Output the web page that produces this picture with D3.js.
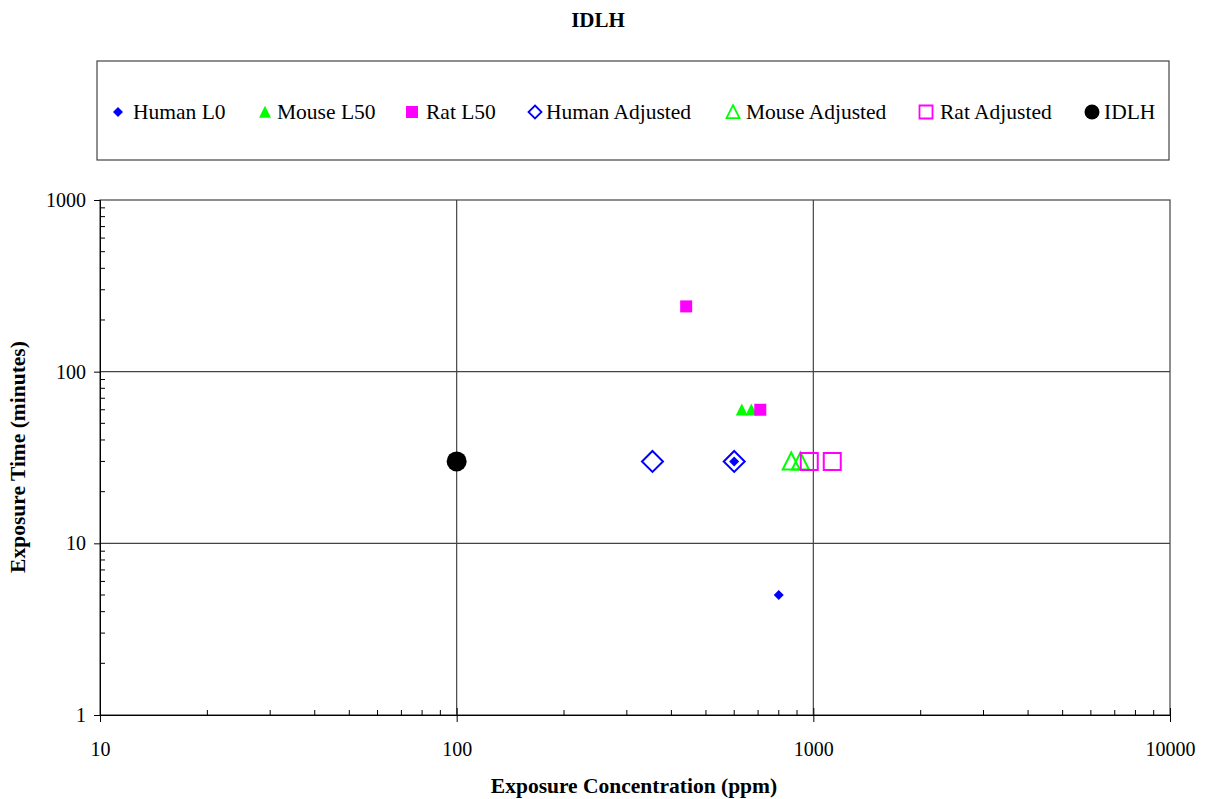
<!DOCTYPE html>
<html><head><meta charset="utf-8">
<script src="https://cdn.jsdelivr.net/npm/d3@7"></script>
<style>body{margin:0;background:#fff;} text{font-family:"Liberation Serif","Times New Roman",serif;}</style>
</head><body><svg id="c" width="1205" height="799"></svg>
<script>
const xTicks = [10, 100, 1000, 10000];
const yTicks = [1, 10, 100, 1000];
const humanL0 = [[600, 30], [800, 5]];
const mouseL50 = [[630, 60], [670, 60]];
const ratL50 = [[440, 240], [710, 60]];
const humanAdj = [[354, 30], [600, 30]];
const mouseAdj = [[867, 30], [920, 30]];
const ratAdj = [[974, 30], [1130, 30]];
const idlh = [[100, 30]];
const seriesNames = ["Human L0","Mouse L50","Rat L50","Human Adjusted","Mouse Adjusted","Rat Adjusted","IDLH"];

const svg = d3.select("#c");
const L = 100, R = 1170, T = 200, B = 715;
const x = d3.scaleLog().domain([10, 10000]).range([L, R]);
const y = d3.scaleLog().domain([1, 1000]).range([B, T]);

svg.append("text").attr("x", 598).attr("y", 27).attr("text-anchor", "middle")
  .attr("font-weight", "bold").attr("font-size", 21).text("IDLH");

// gridlines
const g = svg.append("g");
[100, 1000].forEach(v => g.append("line").attr("x1", x(v)).attr("x2", x(v)).attr("y1", T).attr("y2", B).attr("stroke", "#444").attr("stroke-width", 1.2));
[10, 100].forEach(v => g.append("line").attr("y1", y(v)).attr("y2", y(v)).attr("x1", L).attr("x2", R).attr("stroke", "#444").attr("stroke-width", 1.2));
g.append("rect").attr("x", L).attr("y", T).attr("width", R - L).attr("height", B - T).attr("fill", "none").attr("stroke", "#444").attr("stroke-width", 1.2);

// minor ticks
const minorX = [];
for (let d = 10; d < 10000; d *= 10) for (let k = 2; k <= 9; k++) minorX.push(d * k);
const minorY = [];
for (let d = 1; d < 1000; d *= 10) for (let k = 2; k <= 9; k++) minorY.push(d * k);

const xa = svg.append("g").attr("transform", `translate(0,${B})`);
xa.call(d3.axisBottom(x).tickValues(xTicks).tickFormat(d3.format("d")).tickSize(7).tickPadding(20));
xa.selectAll("text").attr("font-size", 20).attr("fill", "#000");
xa.selectAll(".tick line").attr("y1", -7).attr("stroke", "#000");
xa.select(".domain").attr("stroke", "#000");
xa.selectAll(".minor").data(minorX).enter().append("line").attr("x1", d => x(d)).attr("x2", d => x(d)).attr("y1", 0).attr("y2", -5).attr("stroke", "#000");

const ya = svg.append("g").attr("transform", `translate(${L},0)`);
ya.call(d3.axisLeft(y).tickValues(yTicks).tickFormat(d3.format("d")).tickSize(6).tickPadding(8));
ya.selectAll("text").attr("font-size", 20).attr("fill", "#000");
ya.selectAll(".tick line").attr("stroke", "#000");
ya.select(".domain").attr("stroke", "#000");
ya.selectAll(".minor").data(minorY).enter().append("line").attr("y1", d => y(d)).attr("y2", d => y(d)).attr("x1", 0).attr("x2", 5).attr("stroke", "#000");

svg.append("text").attr("x", 634).attr("y", 793).attr("text-anchor", "middle").attr("font-weight", "bold").attr("font-size", 21.5).text("Exposure Concentration (ppm)");
svg.append("text").attr("transform", "translate(25,457) rotate(-90)").attr("text-anchor", "middle").attr("font-weight", "bold").attr("font-size", 21.5).text("Exposure Time (minutes)");

const BLUE = "#0000ff", GREEN = "#00ff00", MAG = "#ff00ff";
// shape path generators, s = full width
const shapes = {
  diamond: s => { const h = s / 2; return `M0,${-h}L${h},0L0,${h}L${-h},0Z`; },
  triangle: s => { const h = s / 2; return `M0,${-h * 1.05}L${h},${h * 0.95}L${-h},${h * 0.95}Z`; },
  square: s => { const h = s / 2; return `M${-h},${-h}H${h}V${h}H${-h}Z`; },
  circle: s => { const r = s / 2; return `M${r},0A${r},${r} 0 1,1 ${-r},0A${r},${r} 0 1,1 ${r},0Z`; }
};
const styles = [
  {data: humanL0, type: "diamond", size: 10, fill: BLUE, stroke: "none", lsize: 10},
  {data: mouseL50, type: "triangle", size: 12, fill: GREEN, stroke: "none", lsize: 12},
  {data: ratL50, type: "square", size: 12, fill: MAG, stroke: "none", lsize: 12},
  {data: humanAdj, type: "diamond", size: 21, fill: "none", stroke: BLUE, lsize: 13},
  {data: mouseAdj, type: "triangle", size: 17, fill: "none", stroke: GREEN, lsize: 13},
  {data: ratAdj, type: "square", size: 17, fill: "none", stroke: MAG, lsize: 13},
  {data: idlh, type: "circle", size: 20, fill: "#000", stroke: "none", lsize: 15}
];
const order = [3, 4, 5, 0, 1, 2, 6];
order.forEach(i => {
  const s = styles[i];
  svg.append("g").selectAll("path").data(s.data).enter().append("path")
    .attr("d", shapes[s.type](s.size))
    .attr("transform", d => `translate(${x(d[0])},${y(d[1])})`)
    .attr("fill", s.fill).attr("stroke", s.stroke).attr("stroke-width", 2);
});

// legend
svg.append("rect").attr("x", 97).attr("y", 61).attr("width", 1072).attr("height", 99).attr("fill", "#fff").attr("stroke", "#444").attr("stroke-width", 1.2);
const legX = [118, 265, 412, 535, 733, 926, 1092];
const legTX = [133, 277, 426, 546, 746, 940, 1104];
seriesNames.forEach((n, i) => {
  const s = styles[i];
  svg.append("path").attr("d", shapes[s.type](s.lsize)).attr("transform", `translate(${legX[i]},112)`)
    .attr("fill", s.fill).attr("stroke", s.stroke).attr("stroke-width", 1.8);
  svg.append("text").attr("x", legTX[i]).attr("y", 119).attr("font-size", 21.5).text(n);
});
</script></body></html>
